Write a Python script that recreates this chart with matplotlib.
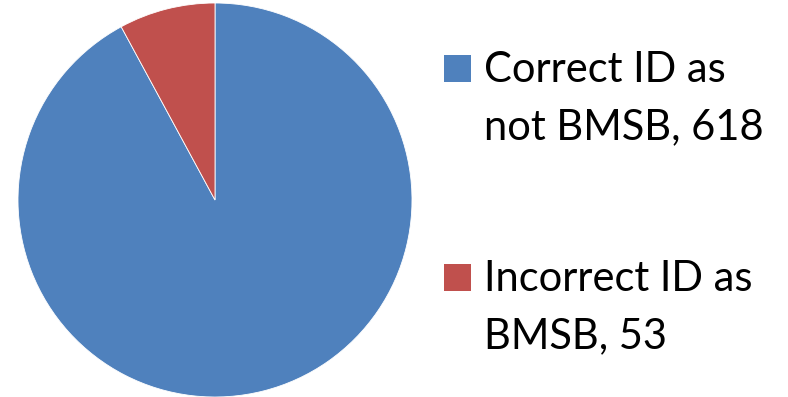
import matplotlib.pyplot as plt
from matplotlib.patches import Rectangle

# counts of specimens by identification outcome
labels = ['Correct ID as\nnot BMSB, 618', 'Incorrect ID as\nBMSB, 53']
counts = [618, 53]
colors = ['#4F81BD', '#C0504D']

W, H = 788, 397
fig = plt.figure(figsize=(W / 100, H / 100), dpi=100)

# pie axes: centre at (215, 200) px, radius 197 px
cx, cy, r = 215, 200, 197
ax = fig.add_axes([(cx - r) / W, (H - cy - r) / H, 2 * r / W, 2 * r / H])
ax.pie(counts, colors=colors, startangle=90, counterclock=False, radius=1,
       wedgeprops=dict(edgecolor='white', linewidth=0.6))
ax.set_xlim(-1, 1)
ax.set_ylim(-1, 1)
ax.set_aspect('auto')
ax.axis('off')

# legend drawn by hand: square beside first line of each label
rows = [55, 264]
for lab, col, top in zip(labels, colors, rows):
    fig.patches.append(Rectangle((444 / W, 1 - (top + 27) / H), 27 / W, 27 / H,
                                 transform=fig.transFigure, facecolor=col,
                                 edgecolor='none'))
    first, second = lab.split('\n')
    fig.text(484 / W, 1 - (top + 27) / H, first, fontsize=30, family='Lato',
             va='baseline', ha='left')
    fig.text(484 / W, 1 - (top + 84) / H, second, fontsize=30, family='Lato',
             va='baseline', ha='left')

fig.savefig('out.png', dpi=100)
